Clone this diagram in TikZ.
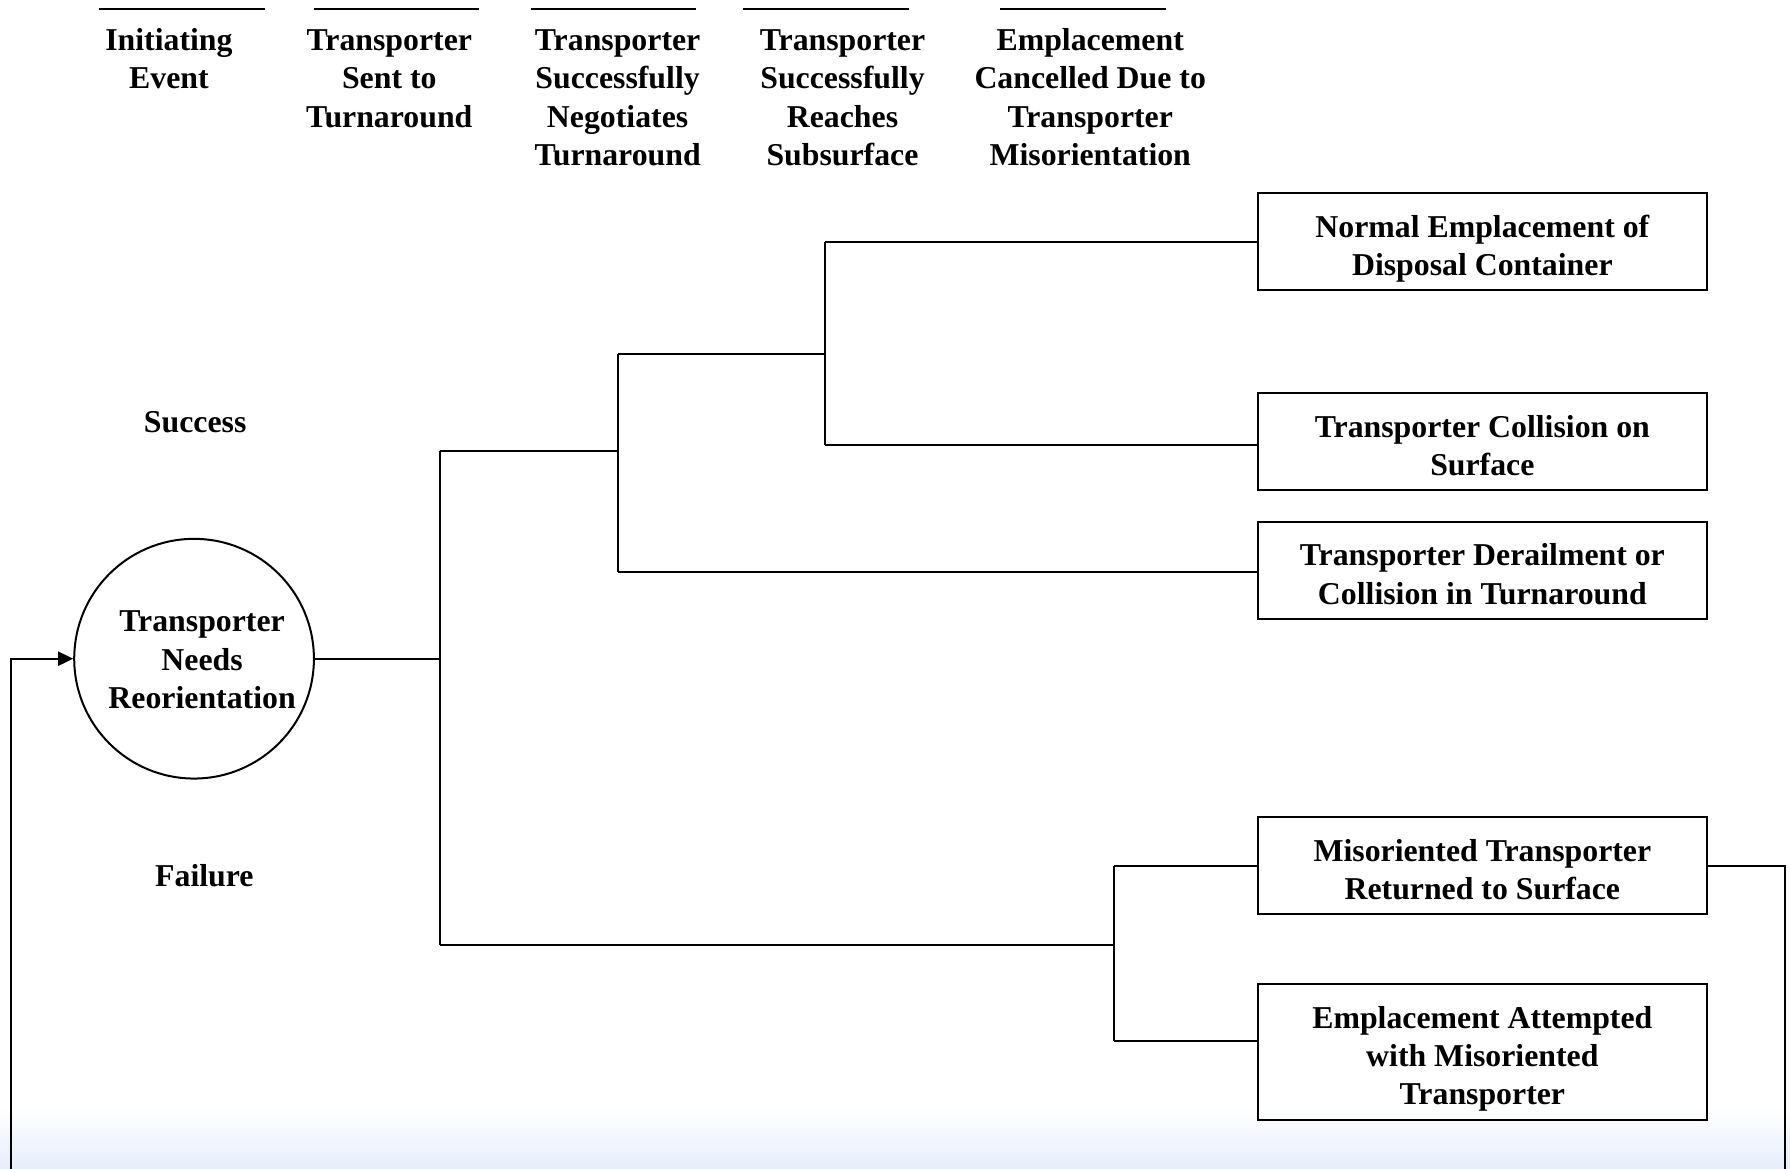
\documentclass[tikz,border=0pt]{standalone}
\usepackage{fontspec}
\setmainfont{Liberation Serif}
\usetikzlibrary{arrows.meta}
\definecolor{hazeblue}{RGB}{230,238,251}
\newcommand{\evfont}{\fontsize{31.8}{38.2}\selectfont\bfseries}
% fixed top and bottom struts so every box sets its lines the same way
\newcommand{\topst}{\rule{0pt}{37pt}}
\newcommand{\botst}{\rule[-7.4pt]{0pt}{7.4pt}}
\begin{document}
\begin{tikzpicture}[x=1.1416pt,y=-1.1416pt,
  txt/.style={font=\evfont, align=center, inner sep=0pt},
  hdr/.style={txt, anchor=north},
  hline/.style={line width=2.6pt},
  conn/.style={line width=2pt},
  outbox/.style={txt, draw, line width=2.2pt, minimum width=448.6pt, minimum height=97pt},
  ievent/.style={draw, circle, line width=2pt, minimum size=239.7pt, inner sep=0pt}]
\useasboundingbox (0,0) rectangle (1568,1024);
% soft tint along the lower edge
\shade[top color=white, bottom color=hazeblue] (0,970) rectangle (1568,1024);

% column headings
\foreach \xa/\xb in {87/232,275/420,465/610,651/796,876/1021}
  \draw[hline] (\xa,8) -- (\xb,8);
\node[hdr] (h1) at (148,20.9) {\strut Initiating\\Event\strut};
\node[hdr] (h2) at (341,20.9) {\strut Transporter\\Sent to\\Turnaround\strut};
\node[hdr] (h3) at (541,20.9) {\strut Transporter\\Successfully\\Negotiates\\Turnaround\strut};
\node[hdr] (h4) at (738,20.9) {\strut Transporter\\Successfully\\Reaches\\Subsurface\strut};
\node[hdr] (h5) at (955,20.9) {\strut Emplacement\\Cancelled Due to\\Transporter\\Misorientation\strut};

% branch labels
\node[txt] (succ) at (171,370) {Success};
\node[txt] (fail) at (179,767) {Failure};

% initiating event
\node[ievent] (ie) at (170,577) {};
\node[txt] (ietext) at (177,578) {Transporter\\Needs\\Reorientation};

% end states
\node[outbox] (o1) at (1298.5,211.5) {\topst Normal Emplacement of\\Disposal Container\botst};
\node[outbox] (o2) at (1298.5,387) {\topst Transporter Collision on\\Surface\botst};
\node[outbox] (o3) at (1298.5,499.5) {\topst Transporter Derailment or\\Collision in Turnaround\botst};
\node[outbox] (o4) at (1298.5,758.5) {\topst Misoriented Transporter\\Returned to Surface\botst};
\node[outbox, minimum height=135.9pt] (o5) at (1298.5,921.5) {\topst Emplacement Attempted\\with Misoriented\\Transporter\botst};

% branch points
\coordinate (j1) at (385,577);
\coordinate (s1) at (385,395);
\coordinate (f1) at (385,828);
\coordinate (s2) at (541,310);
\coordinate (j2) at (541,395);
\coordinate (f2) at (541,501);
\coordinate (s3) at (723,212);
\coordinate (j3) at (723,310);
\coordinate (f3) at (723,390);
\coordinate (j4) at (976,828);
\coordinate (s4) at (976,759);
\coordinate (f4) at (976,912);
\coordinate (lr) at (1564,759);
\coordinate (lrb) at (1564,1030);
\coordinate (llb) at (10,1030);
\coordinate (ll) at (10,577);

% event tree
\draw[conn] (ie.east) -- (j1);
\draw[conn] (s1) -- (f1);
\draw[conn] (s1) -- (j2);
\draw[conn] (s2) -- (f2);
\draw[conn] (s2) -- (j3);
\draw[conn] (s3) -- (f3);
\draw[conn] (s3) -- (s3 -| o1.west);
\draw[conn] (f3) -- (f3 -| o2.west);
\draw[conn] (f2) -- (f2 -| o3.west);
\draw[conn] (f1) -- (j4);
\draw[conn] (s4) -- (f4);
\draw[conn] (s4) -- (s4 -| o4.west);
\draw[conn] (f4) -- (f4 -| o5.west);

% return loop
\draw[conn] (lr -| o4.east) -- (lr) -- (lrb);
\draw[conn, -{Triangle[length=15pt,width=14pt]}] (llb) -- (ll) -- (ie.west);
\end{tikzpicture}
\end{document}
